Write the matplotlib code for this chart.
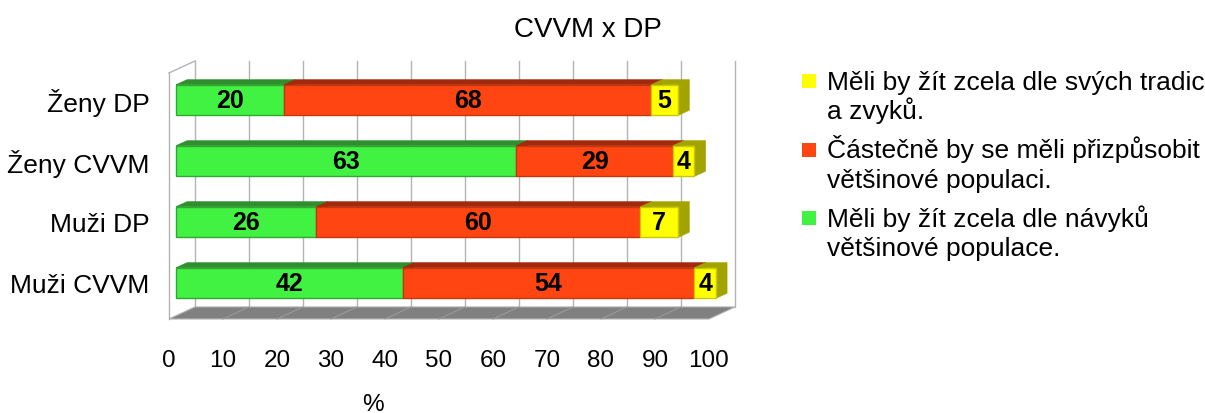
import matplotlib.pyplot as plt
from matplotlib.patches import Polygon
import numpy as np

plt.rcParams["font.family"] = ["Liberation Sans", "DejaVu Sans"]

categories = ["Muži CVVM", "Muži DP", "Ženy CVVM", "Ženy DP"]
zvyky_vetsiny = [42, 26, 63, 20]
castecne = [54, 60, 29, 68]
vlastni_tradice = [4, 7, 4, 5]
ticks = np.arange(0, 101, 10)

series = [zvyky_vetsiny, castecne, vlastni_tradice]
front_c = ["#42f242", "#ff4612", "#ffff00"]
top_c = ["#2f8f2f", "#a2290c", "#a3a300"]
edge_c = ["#2fa82f", "#c8340c", "#c8c800"]
legend_labels = [
    ["Měli by žít zcela dle svých tradic", "a zvyků."],
    ["Částečně by se měli přizpůsobit", "většinové populaci."],
    ["Měli by žít zcela dle návyků", "většinové populace."],
]
legend_colors = ["#ffff00", "#ff4612", "#42f242"]

# pseudo 3D geometry (data units)
wall_dx, wall_dy = 4.81, 0.197
bar_x0 = 1.3
bar_dx, bar_dy = 2.04, 0.082
bar_h = 0.5
floor_y = -0.59

fig = plt.figure(figsize=(12.05, 4.14), dpi=100)
ax = fig.add_axes([163.6 / 1205, 1 - 321.8 / 414, 577.8 / 1205, 263.5 / 414])
ax.set_xlim(-1, 106)
ax.set_ylim(-0.62, 3.7)
for s in ax.spines.values():
    s.set_visible(False)

grid_c = "#b3b3b3"
top_y = 3.443
# left wall
ax.plot([0, 0], [floor_y, top_y], color=grid_c, lw=1, zorder=1)
ax.plot([0, wall_dx], [top_y, top_y + wall_dy], color=grid_c, lw=1, zorder=1)
# back wall grid
for t in ticks:
    ax.plot([t + wall_dx, t + wall_dx], [floor_y + wall_dy, top_y + wall_dy],
            color=grid_c, lw=1, zorder=1)
# floor
ax.add_patch(Polygon([(0, floor_y), (100, floor_y), (100 + wall_dx, floor_y + wall_dy),
                      (wall_dx, floor_y + wall_dy)], closed=True, facecolor="#808080",
                     edgecolor="#b0b0b0", lw=0.8, zorder=2))
for t in ticks[1:-1]:
    ax.plot([t, t + wall_dx], [floor_y, floor_y + wall_dy], color="#9a9a9a", lw=0.8, zorder=2)

# bars: side, top, then front for each segment
y = np.arange(len(categories))
for i in y:
    left = bar_x0
    for k, vals in enumerate(series):
        w = vals[i]
        r = left + w
        b, t = i - bar_h / 2, i + bar_h / 2
        z = 3 + k * 3
        ax.add_patch(Polygon([(r, b), (r, t), (r + bar_dx, t + bar_dy), (r + bar_dx, b + bar_dy)],
                             closed=True, facecolor=top_c[k], edgecolor=top_c[k], lw=0.5, zorder=z))
        ax.add_patch(Polygon([(left, t), (r, t), (r + bar_dx, t + bar_dy), (left + bar_dx, t + bar_dy)],
                             closed=True, facecolor=top_c[k], edgecolor=top_c[k], lw=0.5, zorder=z + 1))
        ax.barh(i, w, left=left, height=bar_h, color=front_c[k], edgecolor=edge_c[k],
                lw=1, zorder=z + 2)
        ax.text(left + w / 2, i, str(w), ha="center", va="center", fontsize=18,
                fontweight="bold", color="black", zorder=20)
        left = r

ax.set_xticks(ticks)
ax.set_yticks(y)
ax.set_yticklabels(categories)
ax.tick_params(axis="x", length=0, pad=20, labelsize=17.5)
ax.tick_params(axis="y", length=0, pad=10, labelsize=19)
ax.set_xlabel("%", fontsize=17.5)
ax.xaxis.set_label_coords((373 - 163.6) / 577.8, -(405 - 321.8) / 263.5)
ax.xaxis.label.set_va("center")

fig.text(588 / 1205, 1 - 30 / 414, "CVVM x DP", ha="center", va="center", fontsize=20)

# legend
for j, lines in enumerate(legend_labels):
    sq_bottom = 89 + 68.5 * j
    fig.patches.append(plt.Rectangle((802 / 1205, 1 - sq_bottom / 414), 14 / 1205, 14 / 414,
                                     transform=fig.transFigure, facecolor=legend_colors[j],
                                     edgecolor="none"))
    for n, line in enumerate(lines):
        fig.text(827 / 1205, 1 - (sq_bottom + 1 + 29.5 * n) / 414, line, ha="left",
                 va="baseline", fontsize=19)

fig.savefig("out.png", dpi=100)
